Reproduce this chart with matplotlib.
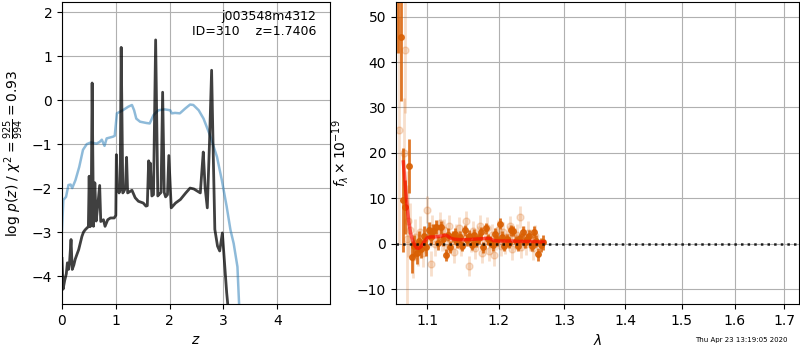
"""Redshift fit summary: p(z) on the left, 1D spectrum + model on the right."""

import matplotlib
matplotlib.use("Agg")
import matplotlib.pyplot as plt
from matplotlib.ticker import FixedLocator, NullLocator, FormatStrFormatter

# --- p(z) panel -------------------------------------------------------------
# log p(z) (dark) and chi2 curve (light blue)
z_pz = [0.0, 0.02, 0.05, 0.08, 0.10, 0.12, 0.14, 0.168, 0.19, 0.22, 0.245,
        0.28, 0.31, 0.34, 0.37, 0.40, 0.43, 0.47, 0.49, 0.505, 0.52, 0.54,
        0.56, 0.585, 0.61, 0.635, 0.66, 0.70, 0.72, 0.77, 0.80, 0.85, 0.90,
        0.97, 1.0, 1.01, 1.03, 1.06, 1.08, 1.10, 1.13, 1.16, 1.18, 1.20,
        1.22, 1.26, 1.30, 1.36, 1.42, 1.51, 1.56, 1.585, 1.61, 1.625, 1.64,
        1.67, 1.70, 1.74, 1.78, 1.80, 1.84, 1.87, 1.90, 1.925, 1.96, 1.985,
        2.03, 2.11, 2.20, 2.30, 2.38, 2.45, 2.57, 2.60, 2.625, 2.66, 2.70,
        2.74, 2.78, 2.81, 2.84, 2.89, 2.93, 2.98, 3.02, 3.06, 3.10]
logp = [-3.6, -4.3, -4.1, -3.95, -3.7, -3.85, -3.7, -3.17, -3.85, -3.75,
        -3.62, -3.5, -3.4, -3.25, -3.1, -3.0, -2.95, -2.9, -2.88, -1.73,
        -2.88, -2.85, 0.39, -2.87, -1.88, -2.75, -2.45, -1.94, -2.76, -2.72,
        -2.87, -2.72, -2.68, -2.68, -2.62, -1.24, -1.96, -2.11, -2.05, 1.2,
        -2.11, -2.05, -1.96, -1.3, -2.11, -2.08, -2.05, -2.22, -2.30, -2.34,
        -2.41, -2.40, -1.38, -2.0, -1.43, -2.18, -2.15, 1.37, -2.18, -2.15,
        -2.1, 0.18, -2.1, -2.2, -2.15, -1.26, -2.45, -2.34, -2.26, -2.11,
        -2.0, -2.02, -2.11, -1.6, -1.18, -2.0, -2.45, -1.0, 0.68, -1.2,
        -2.94, -3.32, -3.43, -3.02, -3.7, -4.38, -4.9]

z_chi = [0.0, 0.025, 0.075, 0.12, 0.16, 0.19, 0.25, 0.32, 0.39, 0.46, 0.54,
         0.64, 0.70, 0.74, 0.79, 0.83, 0.95, 0.98, 1.02, 1.13, 1.23, 1.30,
         1.34, 1.38, 1.45, 1.57, 1.63, 1.70, 1.79, 1.91, 2.01, 2.04, 2.10,
         2.19, 2.29, 2.38, 2.44, 2.54, 2.63, 2.75, 2.88, 2.97, 3.06, 3.13,
         3.19, 3.26, 3.29, 3.31]
chi = [-2.95, -2.27, -2.2, -1.93, -1.92, -2.0, -1.82, -1.52, -1.13, -1.0,
       -0.96, -0.99, -0.95, -0.9, -1.04, -0.87, -0.83, -0.81, -0.3, -0.23,
       -0.15, -0.11, -0.23, -0.42, -0.49, -0.52, -0.53, -0.34, -0.23, -0.21,
       -0.23, -0.3, -0.29, -0.3, -0.19, -0.1, -0.11, -0.23, -0.42, -0.8,
       -1.29, -1.82, -2.42, -2.95, -3.26, -3.79, -4.62, -5.0]

# --- spectrum panel ---------------------------------------------------------
# beam A (solid points)
lam_a = [1.0610, 1.0655, 1.0675, 1.0712, 1.0763, 1.0795, 1.0825, 1.0858,
         1.0890, 1.0922, 1.0955, 1.0987, 1.1020, 1.1052, 1.1085, 1.1118,
         1.1150, 1.1183, 1.1216, 1.1249, 1.1282, 1.1315, 1.1348, 1.1381,
         1.1414, 1.1447, 1.1480, 1.1513, 1.1546, 1.1580, 1.1613, 1.1646,
         1.1680, 1.1713, 1.1747, 1.1780, 1.1814, 1.1847, 1.1881, 1.1915,
         1.1948, 1.1982, 1.2016, 1.2050, 1.2084, 1.2118, 1.2152, 1.2186,
         1.2220, 1.2254, 1.2288, 1.2322, 1.2356, 1.2390, 1.2425, 1.2459,
         1.2493, 1.2527, 1.2562, 1.2596, 1.2630, 1.2664]
flux_a = [60.0, 45.5, 9.6, 8.1, 17.1, -2.9, -0.5, -2.0, 0.5, -1.2, 1.8,
          -0.8, 3.0, 1.5, 2.8, 3.7, 0.2, 3.6, 1.0, -2.5, 2.0, -0.8, 1.6,
          2.2, 0.3, 1.5, -0.5, 3.0, 0.8, 1.8, -0.2, 2.0, 0.5, 1.2, 2.5, -0.8,
          3.4, 1.0, 0.4, -0.3, 2.2, 0.8, 4.4, 1.5, -0.5, 1.0, 0.2, 3.0, 2.8,
          0.5, -0.5, 1.2, 2.6, 0.3, 1.0, 1.8, -0.4, 2.6, 0.6, -2.3, -0.3, 0.3]
err_a = [18.0, 14.0, 11.5, 6.0, 6.0, 3.5, 2.5, 2.5, 2.2, 2.0, 2.0, 1.8, 1.8,
         1.6, 1.6, 1.5, 1.5, 1.5, 1.4, 1.4, 1.4, 1.3, 1.3, 1.3, 1.3, 1.3,
         1.2, 1.2, 1.2, 1.2, 1.2, 1.2, 1.2, 1.2, 1.2, 1.2, 1.2, 1.2, 1.2,
         1.2, 1.2, 1.2, 1.2, 1.2, 1.2, 1.2, 1.2, 1.2, 1.2, 1.2, 1.2, 1.2,
         1.2, 1.2, 1.2, 1.2, 1.3, 1.3, 1.3, 1.4, 1.5, 1.6]

# beam B (faint points)
lam_b = [1.0630, 1.0690, 1.0711, 1.0730, 1.0748, 1.0775, 1.0808, 1.0840,
         1.0873, 1.0906, 1.0938, 1.0971, 1.0994, 1.1036, 1.1050, 1.1068,
         1.1101, 1.1134, 1.1167, 1.1200, 1.1232, 1.1265, 1.1298, 1.1331,
         1.1364, 1.1397, 1.1430, 1.1463, 1.1496, 1.1530, 1.1570, 1.1597,
         1.1630, 1.1663, 1.1697, 1.1730, 1.1764, 1.1797, 1.1831, 1.1864,
         1.1898, 1.1932, 1.1965, 1.1999, 1.2033, 1.2067, 1.2101, 1.2135,
         1.2169, 1.2203, 1.2237, 1.2271, 1.2320, 1.2339, 1.2373, 1.2407,
         1.2442, 1.2476, 1.2510, 1.2544]
flux_b = [25.0, 20.0, 42.7, 1.0, 5.0, 3.0, -3.0, 1.5, -1.5, 2.5, -2.0, 1.0,
          7.5, 2.0, -4.4, 3.5, 0.0, 2.5, 4.5, 1.0, 3.0, -1.0, 4.0, 0.5,
          -1.8, 2.0, 3.5, -0.5, 1.5, 5.0, -4.9, 0.5, 2.8, -1.0, 1.5, 4.0,
          -2.0, 0.8, 3.5, -1.5, 2.0, -2.5, 1.0, 3.0, -0.5, 2.5, 0.0, 1.5,
          3.8, -1.2, 1.2, 2.0, 5.8, -0.8, 1.5, 0.0, 2.4, 0.8, -1.0, 1.6]
err_b = [25.0, 12.0, 14.0, 15.0, 8.0, 6.0, 4.5, 4.0, 3.5, 3.5, 3.2, 3.0,
         3.0, 2.8, 2.8, 2.8, 2.6, 2.6, 2.5, 2.5, 2.5, 2.4, 2.4, 2.4, 2.4,
         2.3, 2.3, 2.3, 2.3, 2.3, 2.3, 2.3, 2.3, 2.3, 2.3, 2.3, 2.3, 2.3,
         2.3, 2.3, 2.3, 2.3, 2.3, 2.3, 2.3, 2.3, 2.3, 2.3, 2.3, 2.3, 2.3,
         2.3, 2.4, 2.4, 2.4, 2.4, 2.5, 2.5, 2.5, 2.6]

# best-fit model
lam_model = [1.0685, 1.0705, 1.0730, 1.0755, 1.0780, 1.0810, 1.0840,
             1.0865, 1.0890, 1.0920, 1.0955, 1.1000, 1.1050, 1.1100,
             1.1150, 1.1200, 1.1240, 1.1280, 1.1320, 1.1370, 1.1450,
             1.1550, 1.1650, 1.1750, 1.1830, 1.1880, 1.1920, 1.2000,
             1.2100, 1.2200, 1.2300, 1.2400, 1.2500, 1.2600, 1.2680]
flux_model = [18.0, 14.0, 9.0, 5.0, 2.3, 0.6, -0.5, -1.0, -1.0, -0.6, 0.3,
              1.3, 1.5, 1.5, 1.6, 1.7, 1.9, 1.7, 1.2, 1.0, 0.9, 0.9, 1.0,
              1.1, 1.2, 1.1, 0.7, 0.6, 0.6, 0.6, 0.5, 0.5, 0.5, 0.4, 0.4]

obj_name = "j003548m4312"
obj_id = 310
z_best = 1.7406
chi2_num, chi2_den = 925, 994
timestamp = "Thu Apr 23 13:19:05 2020"

ORANGE = "#d95f02"

fig = plt.figure(figsize=(8, 3.5), dpi=100)
ax1 = fig.add_axes([0.0775, 0.131, 0.335, 0.863])
ax2 = fig.add_axes([0.495, 0.131, 0.504, 0.863])

# left: p(z)
ax1.plot(z_chi, chi, color="#1f77b4", alpha=0.5, linewidth=1.8)
ax1.plot(z_pz, logp, color="k", alpha=0.75, linewidth=2)
ax1.set_xlim(0, 4.98)
ax1.set_ylim(-4.64, 2.23)
ax1.set_xticks([0, 1, 2, 3, 4])
ax1.set_yticks([-4, -3, -2, -1, 0, 1, 2])
ax1.grid(True)
ax1.set_xlabel("$z$")
ax1.set_ylabel(r"log $p(z)$ / $\chi^2=\frac{%d}{%d}=%.2f$"
               % (chi2_num, chi2_den, chi2_num / chi2_den))
ax1.text(0.95, 0.975, f"{obj_name}\nID={obj_id}    z={z_best:.4f}",
         ha="right", va="top", transform=ax1.transAxes, fontsize=9)

# right: spectrum
ax2.errorbar(lam_b, flux_b, yerr=err_b, color=ORANGE, marker="o",
             linestyle="none", markersize=5, alpha=0.2, linewidth=2)
ax2.errorbar(lam_a, flux_a, yerr=err_a, color=ORANGE, marker="o",
             linestyle="none", markersize=4, alpha=0.85, linewidth=2)
ax2.plot(lam_model, flux_model, color="r", alpha=0.6, linewidth=2.5, zorder=5)
ax2.axhline(0, color="k", linestyle=":", linewidth=1.8, alpha=0.85, zorder=6)
ax2.set_xscale("log")
ax2.set_xlim(1.059, 1.731)
ax2.set_ylim(-13.3, 53.2)
ax2.xaxis.set_major_locator(FixedLocator([1.1, 1.2, 1.3, 1.4, 1.5, 1.6, 1.7]))
ax2.xaxis.set_minor_locator(NullLocator())
ax2.xaxis.set_major_formatter(FormatStrFormatter("%.1f"))
ax2.set_yticks([-10, 0, 10, 20, 30, 40, 50])
ax2.grid(True)
ax2.set_xlabel(r"$\lambda$")
ax2.set_ylabel(r"$f_\lambda \times 10^{-19}$")

fig.text(0.984, 0.028, timestamp, ha="right", va="center", fontsize=5)

fig.savefig("out.png", dpi=100)
